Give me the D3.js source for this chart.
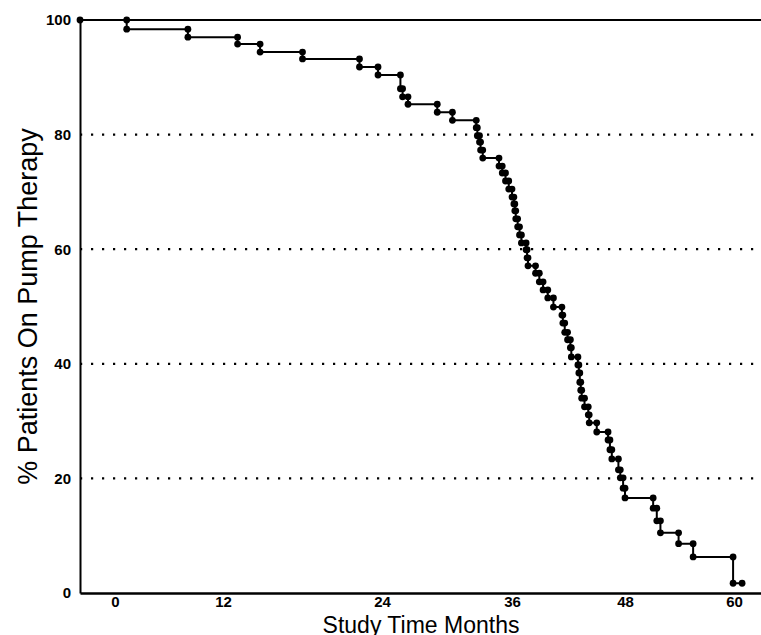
<!DOCTYPE html>
<html>
<head>
<meta charset="utf-8">
<script src="https://cdn.jsdelivr.net/npm/d3@7"></script>
<style>
  body { margin: 0; background: #fff; }
  svg { display: block; font-family: "Liberation Sans", Arial, sans-serif; }
</style>
</head>
<body>
<svg width="761" height="635"></svg>
<script>
// month of each drop, and % still on pump after it
var eventMonths = [1.3, 8.1, 13.1, 14.8, 18.0, 22.3, 23.7, 25.7, 25.9, 26.4, 29.1, 30.5,
    32.7, 32.8, 33.0, 33.1, 33.3, 34.8, 35.1, 35.4, 35.7, 36.0, 36.2, 36.3, 36.4, 36.6,
    36.8, 37.0, 37.5, 37.6, 37.7, 38.5, 38.9, 39.3, 39.8, 40.4, 41.3, 41.4, 41.6, 41.9,
    42.2, 42.3, 43.0, 43.1, 43.2, 43.3, 43.4, 43.7, 44.1, 44.2, 45.0, 46.2, 46.4, 46.6,
    47.3, 47.5, 47.8, 48.0, 51.1, 51.5, 51.9, 53.9, 55.5, 59.9];
var eventPercents = [98.4, 97.0, 95.8, 94.4, 93.2, 91.8, 90.4, 88.0, 86.6, 85.3, 83.9, 82.5,
    81.2, 79.8, 78.7, 77.3, 75.9, 74.5, 73.3, 71.9, 70.5, 69.1, 67.9, 66.7, 65.3, 63.9,
    62.5, 61.1, 59.9, 58.5, 57.1, 55.8, 54.3, 52.9, 51.5, 49.9, 48.5, 47.1, 45.5, 44.2,
    42.8, 41.2, 39.8, 38.4, 36.8, 35.4, 34.0, 32.5, 31.1, 29.7, 28.1, 26.7, 25.0, 23.4,
    21.5, 20.1, 18.3, 16.6, 14.8, 12.6, 10.5, 8.6, 6.3, 1.7];
var lastMonth = 60.9;

var xTicks = [0, 12, 24, 36, 48, 60];
var yTicks = [0, 20, 40, 60, 80, 100];
var gridValues = [20, 40, 60, 80];

var svg = d3.select("svg"),
    margin = {top: 20, right: 0, bottom: 42, left: 80},
    width = +svg.attr("width") - margin.left - margin.right,
    height = +svg.attr("height") - margin.top - margin.bottom,
    g = svg.append("g").attr("transform", "translate(" + margin.left + "," + margin.top + ")");

// the printed axis is not evenly spaced, so map through the tick months
var x = d3.scaleLinear()
    .domain([-3.9, 0, 12, 24, 36, 48, 60, 63])
    .range([0, 35, 143, 302, 432, 545, 654, 681]);

var y = d3.scaleLinear()
    .domain([0, 100])
    .range([height, 0]);

// build the step points
var steps = [{m: x.domain()[0], p: 100}];
var prev = 100;
eventMonths.forEach(function(m, i) {
    steps.push({m: m, p: prev});
    steps.push({m: m, p: eventPercents[i]});
    prev = eventPercents[i];
});
steps.push({m: lastMonth, p: prev});

// dotted reference lines
g.selectAll(".grid")
    .data(gridValues)
    .enter().append("line")
    .attr("class", "grid")
    .attr("x1", 0)
    .attr("x2", width)
    .attr("y1", function(d) { return y(d); })
    .attr("y2", function(d) { return y(d); })
    .attr("stroke", "#000")
    .attr("stroke-width", 2.2)
    .attr("stroke-dasharray", "2.2,8.8");

// frame: top line, left axis, bottom axis
g.append("line")
    .attr("x1", 0).attr("x2", width)
    .attr("y1", 0).attr("y2", 0)
    .attr("stroke", "#000").attr("stroke-width", 2);

g.append("g")
    .attr("class", "yaxis")
    .call(d3.axisLeft(y).tickValues(yTicks).tickSize(0).tickPadding(9))
    .call(function(a) { a.select(".domain").attr("stroke-width", 2); });

g.append("g")
    .attr("class", "xaxis")
    .attr("transform", "translate(0," + height + ")")
    .call(d3.axisBottom(x).tickValues(xTicks).tickSize(0).tickPadding(3))
    .call(function(a) { a.select(".domain").attr("stroke-width", 2.5); });

svg.selectAll(".tick text")
    .attr("font-size", 15)
    .attr("font-weight", "bold")
    .attr("fill", "#000")
    .attr("font-family", "'Liberation Sans', Arial, sans-serif");

// survival step line
var line = d3.line()
    .x(function(d) { return x(d.m); })
    .y(function(d) { return y(d.p); });

g.append("path")
    .datum(steps)
    .attr("fill", "none")
    .attr("stroke", "#000")
    .attr("stroke-width", 2)
    .attr("d", line);

g.selectAll(".mark")
    .data(steps)
    .enter().append("circle")
    .attr("class", "mark")
    .attr("cx", function(d) { return x(d.m); })
    .attr("cy", function(d) { return y(d.p); })
    .attr("r", 3.4)
    .attr("fill", "#000");

// axis titles
svg.append("text")
    .attr("x", 421)
    .attr("y", 633)
    .attr("text-anchor", "middle")
    .attr("font-size", 23)
    .text("Study Time Months");

svg.append("text")
    .attr("transform", "translate(37," + (margin.top + height / 2) + ") rotate(-90)")
    .attr("text-anchor", "middle")
    .attr("font-size", 27)
    .text("% Patients On Pump Therapy");
</script>
</body>
</html>
